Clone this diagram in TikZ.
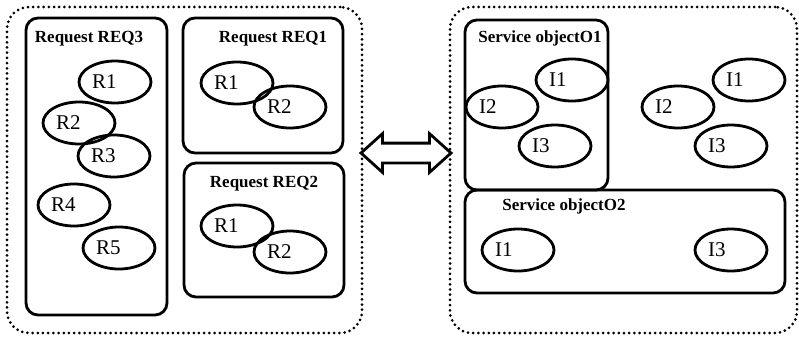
\documentclass[tikz,border=0pt]{standalone}
\usepackage{fontspec}
\setmainfont{Liberation Serif}
\usetikzlibrary{shapes.geometric,shapes.arrows,calc}

\tikzset{
  group/.style={draw, rectangle, rounded corners=22pt, line width=3pt,
    dash pattern=on 0pt off 5.2pt, line cap=round, inner sep=0pt},
  box/.style={draw, rectangle, rounded corners=12pt, line width=2.8pt, inner sep=0pt},
  title/.style={anchor=base, inner sep=0pt, font=\fontsize{17}{20}\selectfont\bfseries},
  item/.style={draw, ellipse, line width=2.8pt, minimum width=72pt, minimum height=42pt,
    inner sep=0pt, text width=46pt, align=left, font=\fontsize{21}{24}\selectfont},
  link/.style={draw, double arrow, line width=2.8pt, inner xsep=0pt, inner ysep=8.5pt,
    minimum height=90pt, double arrow head extend=9.5pt, double arrow tip angle=84}
}

\begin{document}
\begin{tikzpicture}[x=1pt, y=-1pt]
\useasboundingbox (0,0) rectangle (799,337);

% dotted groups
\node[group, minimum width=355pt, minimum height=326pt] (reqs) at (184.5,170) {};
\node[group, minimum width=347pt, minimum height=326pt] (objs) at (623.5,170) {};

% request boxes
\node[box, minimum width=141pt, minimum height=297pt] (req3) at (96.5,166.5) {};
\node[box, minimum width=160pt, minimum height=135pt] (req1) at (263,85.5) {};
\node[box, minimum width=160pt, minimum height=134pt] (req2) at (264,230) {};
\node[title] (req3t) at (89,43) {Request REQ3};
\node[title] (req1t) at (273,42) {Request REQ1};
\node[title] (req2t) at (264,187) {Request REQ2};

% items of REQ3
\node[item] (q3r1) at (115,82) {R1};
\node[item] (q3r2) at (79,123) {R2};
\node[item] (q3r3) at (114,156) {R3};
\node[item] (q3r4) at (74,205) {R4};
\node[item] (q3r5) at (119,248) {R5};

% items of REQ1 and REQ2
\node[item] (q1r1) at (237,83) {R1};
\node[item] (q1r2) at (290,107) {R2};
\node[item] (q2r1) at (237,226) {R1};
\node[item] (q2r2) at (290,252) {R2};

% service object boxes
\node[box, minimum width=143pt, minimum height=170pt] (o1) at (536.5,105) {};
\node[box, minimum width=320pt, minimum height=103pt] (o2) at (625,241.5) {};
\node[title] (o1t) at (540,42) {Service objectO1};
\node[title] (o2t) at (564,210) {Service objectO2};

% items of O1
\node[item] (o1i1) at (572,80) {I1};
\node[item] (o1i2) at (502,107) {I2};
\node[item] (o1i3) at (555,146) {I3};

% free items
\node[item] (fi1) at (749,80) {I1};
\node[item] (fi2) at (678,107) {I2};
\node[item] (fi3) at (731,146) {I3};

% items of O2
\node[item] (o2i1) at (518,250) {I1};
\node[item] (o2i3) at (731,250) {I3};

% two-way link between the groups
\node[link] (swap) at ($(reqs.east)!0.5!(objs.west) + (0,-17)$) {};
\end{tikzpicture}
\end{document}
